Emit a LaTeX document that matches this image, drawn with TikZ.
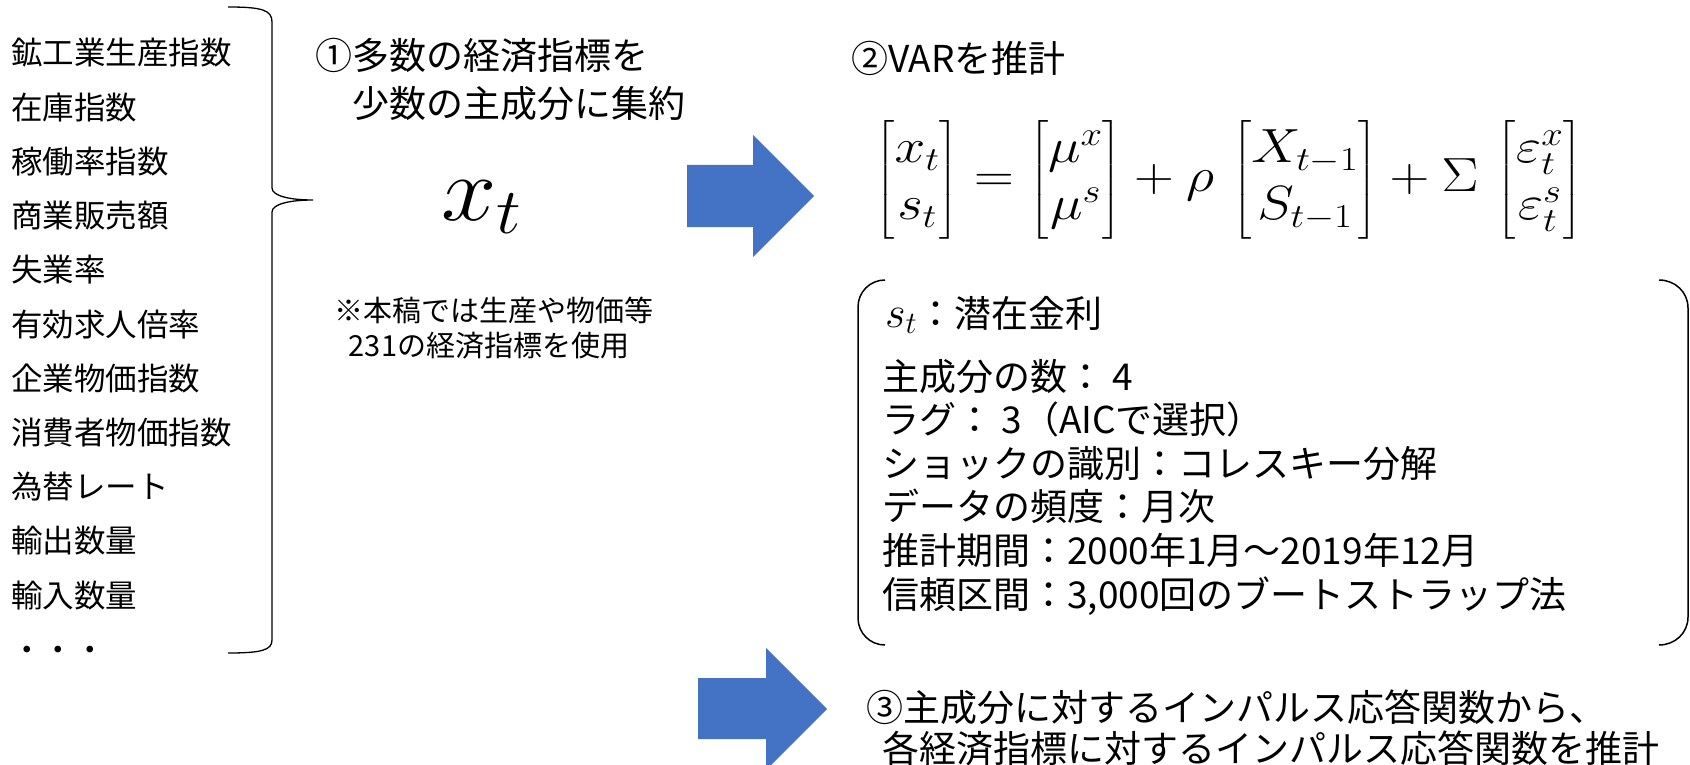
\RequirePackage{fix-cm}
\documentclass[tikz,border=0pt]{standalone}
\usepackage{amsmath}
\usepackage{graphicx}
\usepackage{fontspec}
\setmainfont{Noto Sans CJK JP}
\definecolor{pptblue}{HTML}{4472C4}
\tikzset{
  txt/.style={inner sep=0pt, anchor=base west, font=\fontsize{37}{44}\selectfont},
  listitem/.style={inner sep=0pt, anchor=base west, font=\fontsize{31.5}{38}\selectfont},
  note/.style={inner sep=0pt, anchor=base, font=\fontsize{29}{35}\selectfont},
  bluearrow/.style={fill=pptblue, draw=none},
  bracketline/.style={draw=black, line width=1.5pt},
}
\begin{document}
\begin{tikzpicture}[x=1pt,y=-1pt]
\useasboundingbox (0,0) rectangle (1690,765);

% left list
\foreach \t [count=\i] in {鉱工業生産指数,在庫指数,稼働率指数,商業販売額,失業率,有効求人倍率,企業物価指数,消費者物価指数,為替レート,輸出数量,輸入数量,・・・}
  \node[listitem] (L\i) at (11,{53+54.2*(\i-1)+12}) {\t};

% brace
\draw[black, line width=1.3pt] (228,7) .. controls (262,7) and (272,10) .. (272,22) -- (272,188)
  .. controls (272,196) and (290,200) .. (313,200)
  .. controls (290,200) and (272,204) .. (272,212) -- (272,640)
  .. controls (272,650) and (262,653) .. (228,653);

% step 1
\node[txt] (s1a) at (315,70) {①多数の経済指標を};
\node[txt] (s1b) at (352,118) {少数の主成分に集約};
\node[inner sep=0pt, anchor=base west, font=\fontsize{92}{100}\selectfont] (xt) at (441,220) {\scalebox{1.08}[1]{$x_t$}};
\node[note] (n1) at (494,321) {※本稿では生産や物価等};
\node[note] (n2) at (489,356) {231の経済指標を使用};

% blue arrows
\fill[bluearrow] (687,165) -- (753,165) -- (753,135) -- (814,196) -- (753,257) -- (753,227) -- (687,227) -- cycle;
\fill[bluearrow] (698,678) -- (766,678) -- (766,648) -- (827,709) -- (766,770) -- (766,739) -- (698,739) -- cycle;

% step 2
\node[txt] (s2) at (851,73) {②VARを推計};
\node[inner sep=0pt, font=\fontsize{48}{57}\selectfont] (eq) at (1229,180)
  {\scalebox{1.15}[1]{$\begin{bmatrix} x_t \\ s_t \end{bmatrix} = \begin{bmatrix} \mu^x \\ \mu^s \end{bmatrix} + \rho\,\begin{bmatrix} X_{t-1} \\ S_{t-1} \end{bmatrix} + \Sigma\,\begin{bmatrix} \varepsilon^x_t \\ \varepsilon^s_t \end{bmatrix}$}};

% bracket pair box
\draw[bracketline] (885,280) .. controls (870,280) and (858,292) .. (858,307) -- (858,618)
  .. controls (858,633) and (870,645) .. (885,645);
\draw[bracketline] (1659,280) .. controls (1675,280) and (1688,292) .. (1688,308) -- (1688,617)
  .. controls (1688,633) and (1675,645) .. (1659,645);

\node[txt] (b0) at (885,327) {\scalebox{1.2}{$s_t$}：潜在金利};
\node[txt] (b1) at (882,390) {主成分の数： 4};
\node[txt] (b2) at (882,433.6) {ラグ： 3（AICで選択）};
\node[txt] (b3) at (882,477.2) {ショックの識別：コレスキー分解};
\node[txt] (b4) at (882,520.8) {データの頻度：月次};
\node[txt] (b5) at (882,564.4) {推計期間：2000年1月～2019年12月};
\node[txt] (b6) at (882,608) {信頼区間：3,000回のブートストラップ法};

% step 3
\node[txt] (s3a) at (866,721) {③主成分に対するインパルス応答関数から、};
\node[txt] (s3b) at (882,762) {各経済指標に対するインパルス応答関数を推計};
\end{tikzpicture}
\end{document}
